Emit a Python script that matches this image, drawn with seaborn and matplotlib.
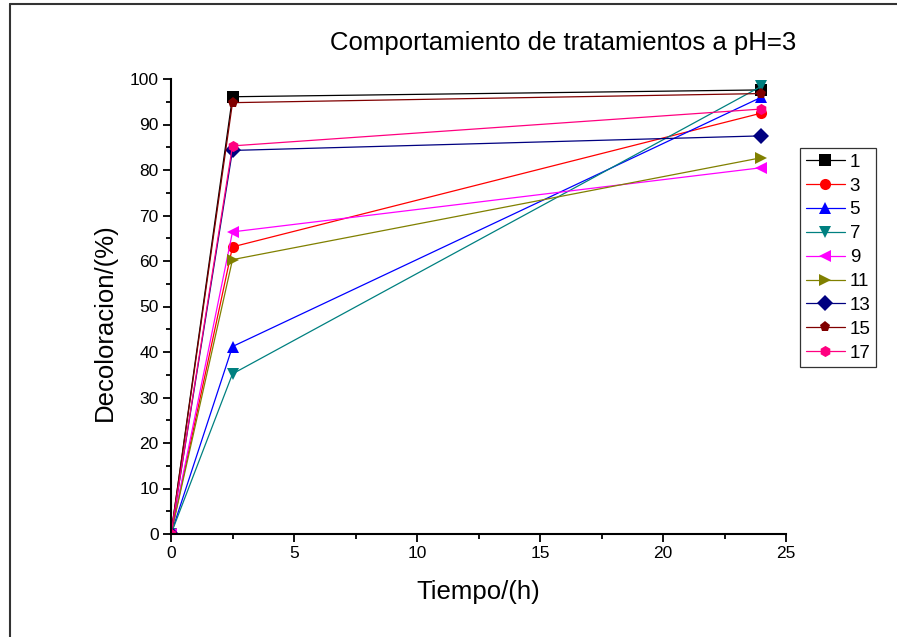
import matplotlib
matplotlib.use("Agg")
import matplotlib.pyplot as plt
import seaborn as sns
import pandas as pd
from matplotlib.lines import Line2D
from matplotlib.ticker import MultipleLocator

sns.set_theme(style="ticks")
plt.rcParams['font.family'] = ['Liberation Sans', 'DejaVu Sans']
plt.rcParams['text.color'] = 'black'

tiempo = [0, 2.5, 24]
series_names = ["1", "3", "5", "7", "9", "11", "13", "15", "17"]
s1 = [0, 96.1, 97.6]
s3 = [0, 63.1, 92.5]
s5 = [0, 41.2, 96.0]
s7 = [0, 35.2, 98.4]
s9 = [0, 66.4, 80.5]
s11 = [0, 60.3, 82.7]
s13 = [0, 84.3, 87.5]
s15 = [0, 94.8, 96.8]
s17 = [0, 85.3, 93.4]
values = [s1, s3, s5, s7, s9, s11, s13, s15, s17]

colors = ["#000000", "#FF0000", "#0000FF", "#008080", "#FF00FF",
          "#808000", "#000080", "#800000", "#FF0080"]
markers = ["s", "o", "^", "v", "<", ">", "D", "p", "h"]

rows = []
for name, vals in zip(series_names, values):
    for t, v in zip(tiempo, vals):
        rows.append({"Tiempo": t, "Decoloracion": v, "Serie": name})
df = pd.DataFrame(rows)

fig = plt.figure(figsize=(8.97, 6.37), dpi=100)
ax = fig.add_axes([171/897, 1-534/637, (786-171)/897, (534-79)/637])

sns.lineplot(data=df, x="Tiempo", y="Decoloracion", hue="Serie", style="Serie",
             hue_order=series_names, style_order=series_names,
             palette=dict(zip(series_names, colors)),
             markers=dict(zip(series_names, markers)), dashes=False,
             markersize=8, markeredgewidth=0, linewidth=0.9, ax=ax, legend=False,
             sort=False)

ax.set_xlim(0, 25)
ax.set_ylim(0, 100)
ax.xaxis.set_major_locator(MultipleLocator(5))
ax.xaxis.set_minor_locator(MultipleLocator(2.5))
ax.yaxis.set_major_locator(MultipleLocator(10))
ax.yaxis.set_minor_locator(MultipleLocator(5))
ax.tick_params(which="major", direction="out", length=6, width=1.3, labelsize=12.5, colors="black", pad=3)
ax.tick_params(which="minor", direction="out", length=3.5, width=1.3, colors="black")
for side in ["top", "right"]:
    ax.spines[side].set_visible(False)
for side in ["left", "bottom"]:
    ax.spines[side].set_linewidth(1.5)
    ax.spines[side].set_color("black")
ax.set_xlabel("")
ax.set_ylabel("")

fig.text(478/897, 1-592/637, "Tiempo/(h)", ha="center", va="center", fontsize=18.5, color="black")
fig.text(105/897, 1-322/637, "Decoloracion/(%)", ha="center", va="center", fontsize=18.5, rotation=90, color="black")
fig.text(563/897, 1-43/637, "Comportamiento de tratamientos a pH=3", ha="center", va="center", fontsize=18.5, color="black")

handles = [Line2D([0], [0], color=c, marker=m, markersize=8, markeredgewidth=0, linewidth=0.9)
           for c, m in zip(colors, markers)]
leg = fig.legend(handles, series_names, loc="upper left",
                 bbox_to_anchor=(800/897, 1-148/637), frameon=True, fancybox=False,
                 fontsize=13.5, handlelength=2.1, labelspacing=0.36, borderpad=0.3,
                 handletextpad=0.25, borderaxespad=0)
leg.get_frame().set_edgecolor("black")
leg.get_frame().set_linewidth(0.9)
for t in leg.get_texts():
    t.set_color("black")

# partial figure frame (top and left)
fig.add_artist(Line2D([9.5/897, 9.5/897], [0, 1-4/637], transform=fig.transFigure, color="#333333", linewidth=1.5))
fig.add_artist(Line2D([9.5/897, 1], [1-4/637, 1-4/637], transform=fig.transFigure, color="#333333", linewidth=1.5))

fig.savefig("out.png", dpi=100)
